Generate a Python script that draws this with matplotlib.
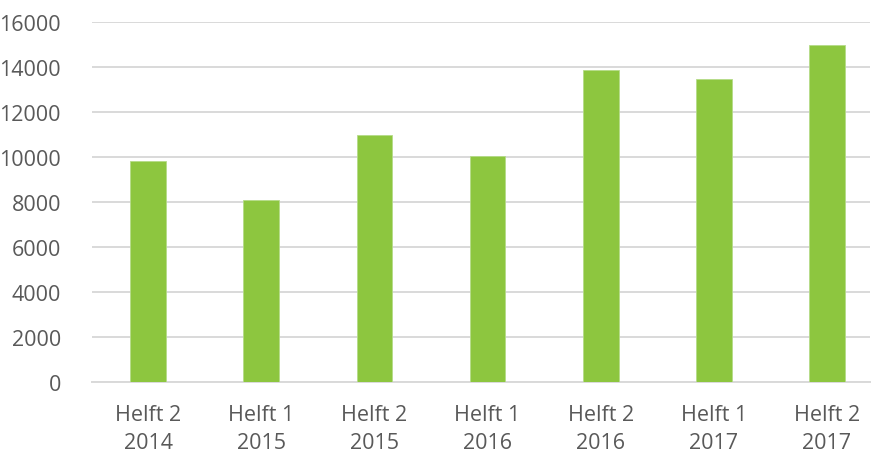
"""Bar chart of half-year totals, 2014-2017."""
import numpy as np
import matplotlib.pyplot as plt

plt.rcParams['font.family'] = ['Open Sans', 'DejaVu Sans']

periods = ["Helft 2\n2014", "Helft 1\n2015", "Helft 2\n2015", "Helft 1\n2016",
           "Helft 2\n2016", "Helft 1\n2017", "Helft 2\n2017"]
values = [9800, 8080, 10980, 10030, 13840, 13440, 14980]
yTicks = [0, 2000, 4000, 6000, 8000, 10000, 12000, 14000, 16000]

barColor = "#8DC63F"
gridColor = "#D9D9D9"
textColor = "#595959"

fig = plt.figure(figsize=(8.73, 4.52), dpi=100)
ax = fig.add_axes([91.5 / 873, 69.3 / 452, (870 - 91.5) / 873, 360 / 452])

xPos = np.arange(len(periods))
ax.bar(xPos, values, width=0.315, color=barColor, edgecolor="#B5DC88",
       linewidth=0.6, zorder=3)

ax.set_ylim(0, 16000)
ax.set_xlim(-0.5, 6 + (870 - 827) / 113.2)
ax.set_yticks(yTicks)
ax.set_yticklabels([str(t) for t in yTicks])
ax.set_xticks(xPos)
ax.set_xticklabels(periods, linespacing=1.45)

ax.yaxis.grid(True, color=gridColor, linewidth=1.4, zorder=0)
ax.set_axisbelow(True)
for side in ["top", "right", "left"]:
    ax.spines[side].set_visible(False)
ax.spines["bottom"].set_color(gridColor)
ax.spines["bottom"].set_linewidth(1.4)

ax.tick_params(axis="y", length=0, pad=22, labelsize=15.5, labelcolor=textColor)
ax.tick_params(axis="x", length=0, pad=16, labelsize=15.5, labelcolor=textColor)

plt.savefig("out.png", dpi=100)
